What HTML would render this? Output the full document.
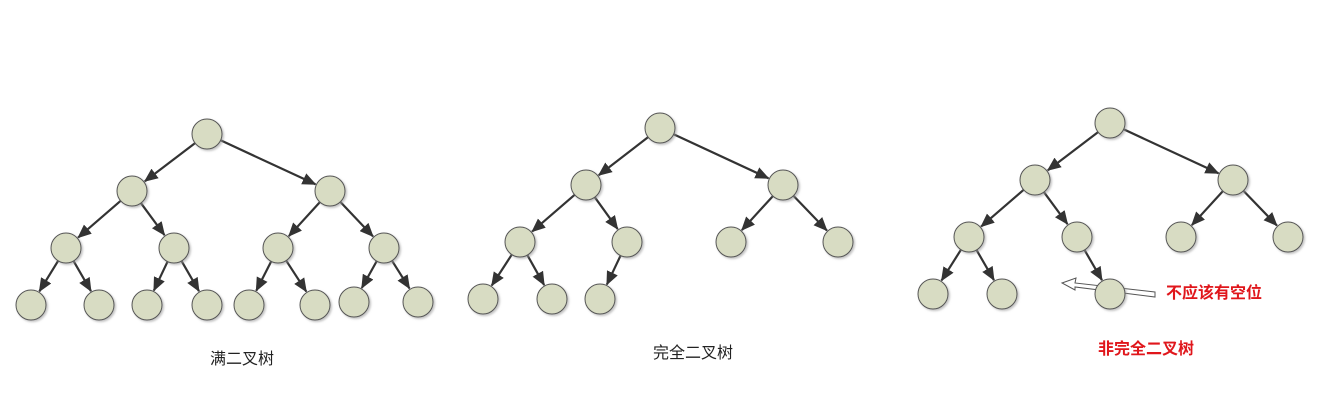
<!DOCTYPE html>
<html><head><meta charset="utf-8"><style>
html,body{margin:0;padding:0;background:#fff;}
svg{display:block;}
text{font-family:"Liberation Sans","Noto Sans CJK SC",sans-serif;}
</style></head><body>
<svg id="chart" width="1331" height="413" viewBox="0 0 1331 413">
<defs>
<marker id="ah" markerWidth="14" markerHeight="12" refX="13" refY="6" orient="auto" markerUnits="userSpaceOnUse" viewBox="0 0 14 12">
<path d="M0,0 L14,6 L0,12 Z" fill="#333"/>
</marker>
<filter id="sh" x="-30%" y="-30%" width="160%" height="160%"><feDropShadow dx="1.5" dy="1.5" stdDeviation="1" flood-color="#999" flood-opacity="0.6"/></filter>
</defs>
<g id="edges"></g>
<polygon points="1155,292 1075,283 1076,278 1062,283 1075,290 1075,287 1155,297" fill="#fff" stroke="#555" stroke-width="1"/>
<g id="nodes"></g>
<text x="242" y="364" font-size="16" fill="#222" text-anchor="middle">满二叉树</text>
<text x="693" y="358" font-size="16" fill="#222" text-anchor="middle">完全二叉树</text>
<text x="1146" y="354" font-size="16" font-weight="bold" fill="#e0161b" text-anchor="middle">非完全二叉树</text>
<text x="1166" y="298" font-size="16" font-weight="bold" fill="#e0161b">不应该有空位</text>
</svg>
<script>
const nodeX = [207,132,330,66,174,278,384,31,99,147,207,249,315,354,418,
  660,586,783,520,627,731,838,483,552,600,
  1110,1035,1233,969,1077,1181,1288,933,1002,1110];
const nodeY = [134,191,191,248,248,248,248,305,305,305,305,305,305,302,302,
  128,185,185,242,242,242,242,299,299,299,
  123,180,180,237,237,237,237,294,294,294];
const nodeParent = [-1,0,0,1,1,2,2,3,3,4,4,5,5,6,6,
  -1,15,15,16,16,17,17,18,18,19,
  -1,25,25,26,26,27,27,28,28,29];
const R = 15;
const ns = "http://www.w3.org/2000/svg";
const eg = document.getElementById('edges');
const ng = document.getElementById('nodes');
for (let i = 0; i < nodeX.length; i++) {
  const p = nodeParent[i];
  if (p < 0) continue;
  const dx = nodeX[i]-nodeX[p], dy = nodeY[i]-nodeY[p];
  const d = Math.hypot(dx,dy), ux = dx/d, uy = dy/d;
  const l = document.createElementNS(ns,'line');
  l.setAttribute('x1', nodeX[p]+ux*R); l.setAttribute('y1', nodeY[p]+uy*R);
  l.setAttribute('x2', nodeX[i]-ux*(R+1)); l.setAttribute('y2', nodeY[i]-uy*(R+1));
  l.setAttribute('stroke','#333'); l.setAttribute('stroke-width','2.2');
  l.setAttribute('marker-end','url(#ah)');
  
  
  eg.appendChild(l);
}
for (let i = 0; i < nodeX.length; i++) {
  const c = document.createElementNS(ns,'circle');
  c.setAttribute('cx', nodeX[i]); c.setAttribute('cy', nodeY[i]); c.setAttribute('r', R);
  c.setAttribute('fill','#d8dcc3'); c.setAttribute('stroke','#555'); c.setAttribute('stroke-width','1');
  c.setAttribute('filter','url(#sh)');
  
  
  ng.appendChild(c);
}
</script>
</body></html>
